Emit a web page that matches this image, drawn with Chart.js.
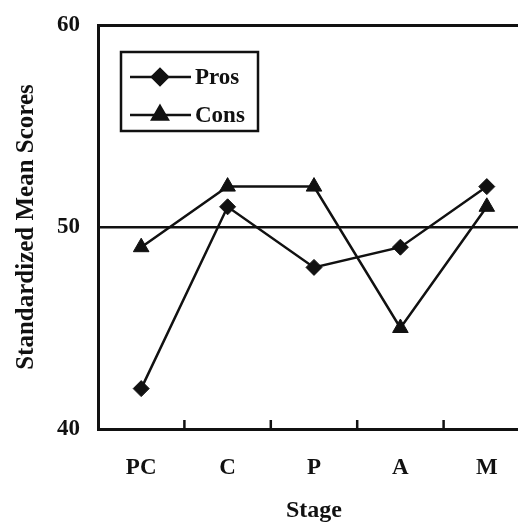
<!DOCTYPE html>
<html>
<head>
<meta charset="utf-8">
<script src="https://cdn.jsdelivr.net/npm/chart.js@4/dist/chart.umd.min.js"></script>
<style>
  html, body { margin: 0; padding: 0; background: #fff; overflow: hidden; }
  #wrap { width: 540px; height: 523px; }
</style>
</head>
<body>
<div id="wrap"><canvas id="c" width="540" height="523"></canvas></div>
<script>
const stages = ["PC", "C", "P", "A", "M"];
const pros = [42, 51, 48, 49, 52];
const cons = [49, 52, 52, 45, 51];
const yTicks = [40, 50, 60];

const FONT = "'Liberation Serif', 'Times New Roman', serif";

// inward tick marks between stages + the legend box inside the plot
const extras = {
  id: "extras",
  afterDraw(chart) {
    const ctx = chart.ctx, x = chart.scales.x, a = chart.chartArea;
    ctx.save();
    ctx.strokeStyle = "#111"; ctx.lineWidth = 2.5;
    for (let i = 1; i < stages.length; i++) {
      const px = (x.getPixelForValue(i - 1) + x.getPixelForValue(i)) / 2;
      ctx.beginPath(); ctx.moveTo(px, a.bottom); ctx.lineTo(px, a.bottom - 9); ctx.stroke();
    }
    // legend
    const bx = 121, by = 52, bw = 137, bh = 79;
    ctx.lineWidth = 2.5;
    ctx.strokeRect(bx, by, bw, bh);
    chart.data.datasets.forEach((ds, i) => {
      const ly = by + 25 + i * 38;
      ctx.lineWidth = 2.5;
      ctx.beginPath(); ctx.moveTo(bx + 9, ly); ctx.lineTo(bx + 70, ly); ctx.stroke();
      ctx.fillStyle = "#111";
      Chart.helpers.drawPoint(ctx, { pointStyle: ds.pointStyle, radius: ds.pointRadius, rotation: 0, borderWidth: 1 }, bx + 39, ly);
      ctx.font = "bold 23px " + FONT;
      ctx.textBaseline = "middle"; ctx.textAlign = "left";
      ctx.fillText(ds.label, bx + 74, ly + 1);
    });
    ctx.restore();
  }
};

new Chart(document.getElementById("c"), {
  type: "line",
  data: {
    labels: stages,
    datasets: [
      { label: "Pros", data: pros, borderColor: "#111", backgroundColor: "#111", borderWidth: 2.5,
        pointStyle: "rectRot", pointRadius: 8, pointBorderWidth: 1, tension: 0 },
      { label: "Cons", data: cons, borderColor: "#111", backgroundColor: "#111", borderWidth: 2.5,
        pointStyle: "triangle", pointRadius: 9, pointBorderWidth: 1, tension: 0 }
    ]
  },
  options: {
    responsive: false,
    animation: false,
    layout: { padding: { top: 25, right: 10, left: 0, bottom: 0 } },
    plugins: { legend: { display: false }, tooltip: { enabled: false } },
    scales: {
      x: {
        offset: true,
        grid: { display: false },
        border: { display: true, color: "#111", width: 3 },
        ticks: { color: "#111", font: { family: FONT, size: 23, weight: "bold" }, padding: 17 },
        title: { display: true, text: "Stage", color: "#111", font: { family: FONT, size: 24, weight: "bold" }, padding: { top: 10, bottom: -2 } },
        afterFit(s) { s.height = 94; }
      },
      y: {
        min: 40, max: 60,
        afterBuildTicks(s) { s.ticks = yTicks.map(v => ({ value: v })); },
        grid: {
          drawTicks: false,
          color: c => (c.tick && (c.tick.value === 50 || c.tick.value === 60)) ? "#111" : "rgba(0,0,0,0)",
          lineWidth: c => (c.tick && c.tick.value === 60) ? 3 : 2.5
        },
        border: { display: true, color: "#111", width: 3 },
        ticks: { color: "#111", font: { family: FONT, size: 23, weight: "bold" }, padding: 18 },
        title: { display: true, text: "Standardized Mean Scores", color: "#111", font: { family: FONT, size: 25, weight: "bold" }, padding: { top: 12, bottom: 0 } },
        afterFit(s) { s.width = 98; s.paddingTop = 0; s.paddingBottom = 0; }
      }
    }
  },
  plugins: [extras]
});
</script>
</body>
</html>
